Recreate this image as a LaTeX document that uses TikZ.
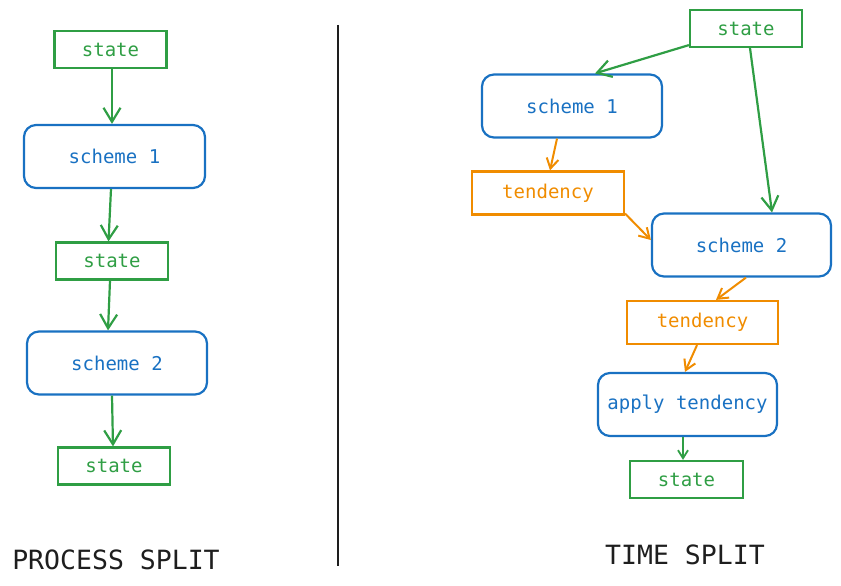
\documentclass[tikz,border=0pt]{standalone}
\usepackage{fontspec}
\setmonofont{DejaVu Sans Mono}
\usetikzlibrary{arrows.meta}
\definecolor{exgreen}{HTML}{2F9E44}
\definecolor{exblue}{HTML}{1971C2}
\definecolor{exorange}{HTML}{F08C00}
\definecolor{exdark}{HTML}{1E1E1E}
\tikzset{
  box/.style={draw, line width=2.2pt, inner sep=0pt, font=\ttfamily\fontsize{19}{22}\selectfont},
  statebox/.style={box, draw=exgreen, text=exgreen, minimum width=112pt, minimum height=37pt},
  schemebox/.style={box, draw=exblue, text=exblue, rounded corners=12pt, minimum width=180pt, minimum height=63pt},
  tendbox/.style={box, draw=exorange, text=exorange, minimum width=152pt, minimum height=43pt},
  conn/.style={line width=2.2pt, -{Straight Barb[length=14pt,width=17pt,line width=2.2pt]}},
  sconn/.style={line width=2pt, -{Straight Barb[length=10pt,width=12pt,line width=2pt]}},
  title/.style={text=exdark, font=\ttfamily\fontsize{26.5}{30}\selectfont, inner sep=0pt}
}
\begin{document}
\begin{tikzpicture}[x=1pt,y=-1pt]
\useasboundingbox (0,0) rectangle (841,586);
% left column
\node[statebox] (l1) at (110.5,49.5) {state};
\node[schemebox, minimum width=181pt] (l2) at (114.5,156.5) {scheme 1};
\node[statebox] (l3) at (112,261) {state};
\node[schemebox] (l4) at (117,363) {scheme 2};
\node[statebox] (l5) at (114,466) {state};
\draw[conn, exgreen] ([xshift=1.5pt]l1.south) -- ([xshift=-2.5pt]l2.north);
\draw[conn, exgreen] ([xshift=-3.5pt]l2.south) -- ([xshift=-3.5pt]l3.north);
\draw[conn, exgreen] ([xshift=-2pt]l3.south) -- ([xshift=-9pt]l4.north);
\draw[conn, exgreen] ([xshift=-5pt]l4.south) -- ([xshift=-1pt]l5.north);
\node[title] (lt) at (116,560) {PROCESS SPLIT};
% divider
\coordinate (d1) at (338,25);
\coordinate (d2) at (338,566);
\draw[exdark, line width=1.6pt] (d1) -- (d2);
% right column
\node[statebox] (r1) at (746,28.5) {state};
\node[schemebox] (r2) at (572,106) {scheme 1};
\node[tendbox] (r3) at (548,193) {tendency};
\node[schemebox, minimum width=179pt] (r4) at (741.5,245) {scheme 2};
\node[tendbox, minimum width=151pt] (r5) at (702.5,322.5) {tendency};
\node[schemebox, minimum width=179pt] (r6) at (687.5,404.5) {apply tendency};
\node[statebox, minimum width=113pt] (r7) at (686.5,479.5) {state};
\draw[conn, exgreen] ([yshift=3pt]r1.south west) -- ([xshift=23pt]r2.north);
\draw[conn, exgreen] ([xshift=4pt]r1.south) -- ([xshift=30.5pt]r4.north);
\draw[sconn, exorange] ([xshift=-15pt]r2.south) -- ([xshift=2pt]r3.north);
\draw[sconn, exorange] ([yshift=2pt]r3.south east) -- ([yshift=5pt]r4.west);
\draw[sconn, exorange] ([xshift=4.5pt]r4.south) -- ([xshift=13.5pt]r5.north);
\draw[sconn, exorange] ([xshift=-5.5pt]r5.south) -- ([xshift=-2.5pt]r6.north);
\draw[sconn, exgreen, -{Straight Barb[length=8pt,width=10pt,line width=1.8pt]}] ([xshift=-4.5pt]r6.south) -- ([xshift=-3.5pt]r7.north);
\node[title] (rt) at (685,555) {TIME SPLIT};
\end{tikzpicture}
\end{document}
